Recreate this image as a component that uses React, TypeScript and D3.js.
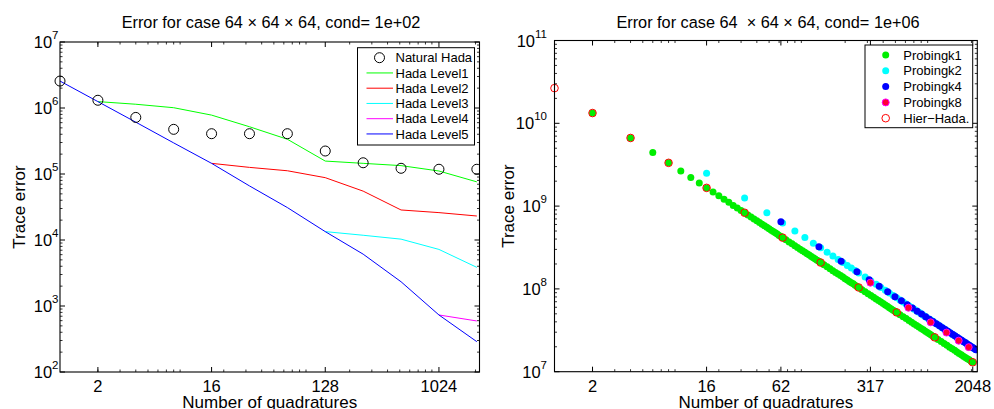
import React from "react";
import * as d3 from "d3";

const W = 994;
const H = 409;
const FONT = "'Liberation Sans', Arial, Helvetica, sans-serif";

// ---------- Left panel data (cond = 1e+02) ----------
const quadN = [1, 2, 4, 8, 16, 32, 64, 128, 256, 512, 1024, 2048];
const naturalHada = [2.56e6, 1.31e6, 7.2e5, 4.75e5, 4.08e5, 4.08e5, 4.08e5, 2.23e5, 1.48e5, 1.22e5, 1.18e5, 1.18e5];
const hadaLevel1N = [2, 4, 8, 16, 32, 64, 128, 256, 512, 1024, 2048];
const hadaLevel1 = [1.25e6, 1.14e6, 1.01e6, 7.8e5, 5.2e5, 3.36e5, 1.57e5, 1.45e5, 1.34e5, 1.11e5, 7.6e4];
const hadaLevel2N = [16, 32, 64, 128, 256, 512, 1024, 2048];
const hadaLevel2 = [1.45e5, 1.26e5, 1.12e5, 8.8e4, 5.5e4, 2.85e4, 2.6e4, 2.31e4];
const hadaLevel3N = [128, 256, 512, 1024, 2048];
const hadaLevel3 = [1.34e4, 1.18e4, 1.03e4, 7.2e3, 3.85e3];
const hadaLevel4N = [1024, 2048];
const hadaLevel4 = [731, 593];
const hadaLevel5 = [2.56e6, 1.25e6, 6.1e5, 2.96e5, 1.45e5, 6.6e4, 3.1e4, 1.34e4, 6.1e3, 2.33e3, 731, 288];
const leftXTicks = [2, 16, 128, 1024];
const leftYTicks = [1e2, 1e3, 1e4, 1e5, 1e6, 1e7];

// ---------- Right panel data (cond = 1e+06), errors in millions ----------
const probingK1N = [
  2, 4, 6, 8, 10, 12, 14, 16, 18, 20, 22, 24, 26, 28, 30, 32,
  34, 36, 38, 40, 42, 44, 46, 48, 50, 52, 54, 56, 58, 60, 62, 64,
  68, 72, 76, 80, 84, 88, 92, 96, 100, 104, 108, 112, 116, 120, 124, 128,
  136, 144, 152, 160, 168, 176, 184, 192, 200, 208, 216, 224, 232, 240, 248, 256,
  272, 288, 304, 320, 336, 352, 368, 384, 400, 416, 432, 448, 464, 480, 496, 512,
  544, 576, 608, 640, 672, 704, 736, 768, 800, 832, 864, 896, 928, 960, 992, 1024,
  1088, 1152, 1216, 1280, 1344, 1408, 1472, 1536, 1600, 1664, 1728, 1792, 1856, 1920, 1984, 2048,
];
const probingK1 = [
  13300, 6650, 4430, 3330, 2660, 2220, 1900, 1660, 1480, 1330, 1210, 1110, 1020, 950, 887, 831,
  782, 739, 700, 665, 633, 605, 578, 554, 532, 512, 493, 475, 459, 443, 429, 416,
  391, 369, 350, 333, 317, 302, 289, 277, 266, 256, 246, 238, 229, 222, 215, 208,
  196, 185, 175, 166, 158, 151, 145, 139, 133, 128, 123, 119, 115, 111, 107, 104,
  97.8, 92.4, 87.5, 83.1, 79.2, 75.6, 72.3, 69.3, 66.5, 63.9, 61.6, 59.4, 57.3, 55.4, 53.6, 51.9,
  48.9, 46.2, 43.8, 41.6, 39.6, 37.8, 36.1, 34.6, 33.3, 32.0, 30.8, 29.7, 28.7, 27.7, 26.8, 26.0,
  24.5, 23.1, 21.9, 20.8, 19.8, 18.9, 18.1, 17.3, 16.6, 16.0, 15.4, 14.8, 14.3, 13.9, 13.4, 13.0,
];
const probingK2N = [
  16, 32, 48, 64, 80, 96, 112, 128, 144, 160, 176, 192, 208, 224, 240, 256,
  288, 320, 352, 384, 416, 448, 480, 512,
  544, 576, 608, 640, 672, 704, 736, 768, 800, 832, 864, 896, 928, 960, 992, 1024,
  1088, 1152, 1216, 1280, 1344, 1408, 1472, 1536, 1600, 1664, 1728, 1792, 1856, 1920, 1984, 2048, 2112, 2176,
];
const probingK2 = [
  2500, 1250, 833, 625, 500, 417, 357, 313, 278, 250, 227, 208, 192, 179, 167, 156,
  139, 125, 114, 104, 96.2, 89.3, 83.3, 78.1,
  73.5, 69.4, 65.8, 62.5, 59.5, 56.8, 54.3, 52.1, 50.0, 48.1, 46.3, 44.6, 43.1, 41.7, 40.3, 39.1,
  36.8, 34.7, 32.9, 31.3, 29.8, 28.4, 27.2, 26.0, 25.0, 24.0, 23.1, 22.3, 21.6, 20.8, 20.2, 19.5, 18.9, 18.4,
];
const probingK4N = [
  62, 124, 186, 248, 310, 372, 434, 496, 558, 620, 682, 744, 806, 868, 930, 992, 1054, 1116,
  1178, 1240, 1302, 1364, 1426, 1488, 1550, 1612, 1674, 1736, 1798, 1860, 1922, 1984, 2046, 2108, 2170,
];
const probingK4 = [
  645, 323, 215, 161, 129, 108, 92.2, 80.6, 71.7, 64.5, 58.7, 53.8, 49.6, 46.1, 43.0, 40.3, 38.0, 35.8,
  34.0, 32.3, 30.7, 29.3, 28.1, 26.9, 25.8, 24.8, 23.9, 23.0, 22.3, 21.5, 20.8, 20.2, 19.6, 19.0, 18.4,
];
const probingK8N = [317, 634, 951, 1268, 1585, 1902];
const probingK8 = [119, 59.3, 39.5, 29.7, 23.7, 19.8];
const hierHadaN = [1, 2, 4, 8, 16, 32, 64, 128, 256, 512, 1024, 2048];
const hierHada = [26600, 13300, 6650, 3330, 1660, 831, 416, 208, 104, 52.0, 26.0, 13.0];
const rightXTicks = [2, 16, 62, 317, 2048];
const rightYTicks = [1e7, 1e8, 1e9, 1e10, 1e11];

const MILLION = 1e6;

type Box = { x0: number; x1: number; y0: number; y1: number };

function minorTicks(lo: number, hi: number): number[] {
  const out: number[] = [];
  for (let k = Math.floor(Math.log10(lo)); k <= Math.ceil(Math.log10(hi)); k++) {
    for (let m = 2; m <= 9; m++) {
      const v = m * Math.pow(10, k);
      if (v > lo && v < hi) out.push(v);
    }
  }
  return out;
}

function Axes({
  box, x, y, xTicks, yTicks, yLabelRight, yTitleX, title, titleX,
}: {
  box: Box;
  x: d3.ScaleLogarithmic<number, number>;
  y: d3.ScaleLogarithmic<number, number>;
  xTicks: number[];
  yTicks: number[];
  yLabelRight: number;
  yTitleX: number;
  title: string;
  titleX: number;
}) {
  const [xl, xh] = x.domain();
  const [yl, yh] = y.domain();
  const xm = minorTicks(xl, xh);
  const ym = minorTicks(yl, yh);
  const MAJ = 5;
  const MIN = 2.5;
  const cx = (box.x0 + box.x1) / 2;
  const cy = (box.y0 + box.y1) / 2;
  return (
    <g fontFamily={FONT} fill="#000">
      {xm.map((v, i) => {
        const px = x(v);
        return (
          <g key={"xm" + i} stroke="#000" strokeWidth={0.8}>
            <line x1={px} x2={px} y1={box.y1} y2={box.y1 - MIN} />
            <line x1={px} x2={px} y1={box.y0} y2={box.y0 + MIN} />
          </g>
        );
      })}
      {ym.map((v, i) => {
        const py = y(v);
        return (
          <g key={"ym" + i} stroke="#000" strokeWidth={0.8}>
            <line x1={box.x0} x2={box.x0 + MIN} y1={py} y2={py} />
            <line x1={box.x1} x2={box.x1 - MIN} y1={py} y2={py} />
          </g>
        );
      })}
      {xTicks.map((v, i) => {
        const px = x(v);
        return (
          <g key={"xM" + i}>
            <line x1={px} x2={px} y1={box.y1} y2={box.y1 - MAJ} stroke="#000" />
            <line x1={px} x2={px} y1={box.y0} y2={box.y0 + MAJ} stroke="#000" />
            <text x={px} y={391.5} textAnchor="middle" fontSize={16.5}>
              {String(v)}
            </text>
          </g>
        );
      })}
      {yTicks.map((v, i) => {
        const py = y(v);
        const e = Math.round(Math.log10(v));
        return (
          <g key={"yM" + i}>
            <line x1={box.x0} x2={box.x0 + MAJ} y1={py} y2={py} stroke="#000" />
            <line x1={box.x1} x2={box.x1 - MAJ} y1={py} y2={py} stroke="#000" />
            <text x={yLabelRight} y={py + 6} textAnchor="end" fontSize={16.5}>
              <tspan>10</tspan>
              <tspan dy={-9} fontSize={11.5}>{String(e)}</tspan>
            </text>
          </g>
        );
      })}
      <rect x={box.x0} y={box.y0} width={box.x1 - box.x0} height={box.y1 - box.y0} fill="none" stroke="#000" strokeWidth={1.1} />
      <text x={titleX} y={28} textAnchor="middle" fontSize={16.3} style={{ whiteSpace: "pre" }}>
        {title}
      </text>
      <text x={cx} y={408} textAnchor="middle" fontSize={17}>
        Number of quadratures
      </text>
      <text transform={`translate(${yTitleX},${cy}) rotate(-90)`} textAnchor="middle" fontSize={17}>
        Trace error
      </text>
    </g>
  );
}

export default function App() {
  const LB: Box = { x0: 60, x1: 479.5, y0: 42, y1: 372 };
  const RB: Box = { x0: 554.5, x1: 977.3, y0: 40.5, y1: 371.7 };

  const xL = d3.scaleLog().domain([1, 2150]).range([LB.x0, LB.x1]);
  const yL = d3.scaleLog().domain([1e2, 1e7]).range([LB.y1, LB.y0]);
  const xR = d3.scaleLog().domain([1, 2225]).range([RB.x0, RB.x1]);
  const yR = d3.scaleLog().domain([1e7, 1e11]).range([RB.y1, RB.y0]);

  const lineL = (ns: number[], vs: number[]) =>
    d3.line<number>().x((_, i) => xL(ns[i])).y((v) => yL(v))(vs) || "";

  const leftSeries = [
    { name: "Hada Level1", color: "#00ff00", n: hadaLevel1N, v: hadaLevel1 },
    { name: "Hada Level2", color: "#ff0000", n: hadaLevel2N, v: hadaLevel2 },
    { name: "Hada Level3", color: "#00ffff", n: hadaLevel3N, v: hadaLevel3 },
    { name: "Hada Level4", color: "#ff00ff", n: hadaLevel4N, v: hadaLevel4 },
    { name: "Hada Level5", color: "#0000ff", n: quadN, v: hadaLevel5 },
  ];

  const rightDots = [
    { name: "Probingk1", fill: "#00ee00", stroke: "#00ee00", n: probingK1N, v: probingK1 },
    { name: "Probingk2", fill: "#00ffff", stroke: "#00ffff", n: probingK2N, v: probingK2 },
    { name: "Probingk4", fill: "#0000ff", stroke: "#0000ff", n: probingK4N, v: probingK4 },
    { name: "Probingk8", fill: "#ff0033", stroke: "#ff00ff", n: probingK8N, v: probingK8 },
  ];

  const DOT_R = 3.5;

  return (
    <svg
      width={W}
      height={H}
      viewBox={`0 0 ${W} ${H}`}
      style={{ position: "absolute", left: 0, top: 0, background: "#fff" }}
    >
      <rect x={0} y={0} width={W} height={H} fill="#fff" />
      <defs>
        <clipPath id="clipL">
          <rect x={LB.x0 - 6} y={LB.y0} width={LB.x1 - LB.x0 + 6} height={LB.y1 - LB.y0} />
        </clipPath>
        <clipPath id="clipR">
          <rect x={RB.x0 - 6} y={RB.y0} width={RB.x1 - RB.x0 + 6} height={RB.y1 - RB.y0} />
        </clipPath>
      </defs>

      {/* ---------- LEFT PANEL ---------- */}
      <g clipPath="url(#clipL)">
        {leftSeries.map((s) => (
          <path key={s.name} d={lineL(s.n, s.v)} fill="none" stroke={s.color} strokeWidth={1} />
        ))}
        {quadN.map((n, i) => (
          <circle key={"nh" + i} cx={xL(n)} cy={yL(naturalHada[i])} r={5} fill="none" stroke="#000" strokeWidth={1} />
        ))}
      </g>
      <Axes
        box={LB}
        x={xL}
        y={yL}
        xTicks={leftXTicks}
        yTicks={leftYTicks}
        yLabelRight={58.5}
        yTitleX={25}
        title={"Error for case 64 \u00d7 64 \u00d7 64, cond= 1e+02"}
        titleX={271}
      />
      <g fontFamily={FONT}>
        <rect x={357.5} y={47.7} width={117} height={97.3} fill="#fff" stroke="#000" strokeWidth={1} />
        <circle cx={379.5} cy={57.7} r={5} fill="none" stroke="#000" strokeWidth={1} />
        <text x={395.5} y={62.3} fontSize={13}>Natural Hada</text>
        {leftSeries.map((s, i) => {
          const yy = 57.7 + (i + 1) * 15.25;
          return (
            <g key={"ll" + i}>
              <line x1={366.5} x2={393} y1={yy} y2={yy} stroke={s.color} strokeWidth={1} />
              <text x={395.5} y={yy + 4.6} fontSize={13}>{s.name}</text>
            </g>
          );
        })}
      </g>

      {/* ---------- RIGHT PANEL ---------- */}
      <g clipPath="url(#clipR)">
        {rightDots.map((s) => (
          <g key={s.name}>
            {s.n.map((n, i) => (
              <circle
                key={i}
                cx={xR(n)}
                cy={yR(s.v[i] * MILLION)}
                r={DOT_R}
                fill={s.fill}
                stroke={s.stroke}
                strokeWidth={s.name === "Probingk8" ? 1 : 0}
              />
            ))}
          </g>
        ))}
        {hierHadaN.map((n, i) => (
          <circle key={"hh" + i} cx={xR(n)} cy={yR(hierHada[i] * MILLION)} r={3.8} fill="none" stroke="#ff0000" strokeWidth={1} />
        ))}
      </g>
      <Axes
        box={RB}
        x={xR}
        y={yR}
        xTicks={rightXTicks}
        yTicks={rightYTicks}
        yLabelRight={547}
        yTitleX={514}
        title={"Error for case 64  \u00d7 64 \u00d7 64, cond= 1e+06"}
        titleX={768}
      />
      <g fontFamily={FONT}>
        <rect x={865} y={45} width={107.7} height={82.7} fill="#fff" stroke="#000" strokeWidth={1} />
        {rightDots.map((s, i) => {
          const yy = 55 + i * 15.8;
          return (
            <g key={"rl" + i}>
              <circle cx={885.7} cy={yy} r={DOT_R} fill={s.fill} stroke={s.stroke} strokeWidth={s.name === "Probingk8" ? 1 : 0} />
              <text x={903.3} y={yy + 4.6} fontSize={13}>{s.name}</text>
            </g>
          );
        })}
        <circle cx={885.7} cy={55 + 4 * 15.8} r={3.8} fill="none" stroke="#ff0000" strokeWidth={1} />
        <text x={903.3} y={55 + 4 * 15.8 + 4.6} fontSize={13}>{"Hier\u2212Hada."}</text>
      </g>
    </svg>
  );
}
